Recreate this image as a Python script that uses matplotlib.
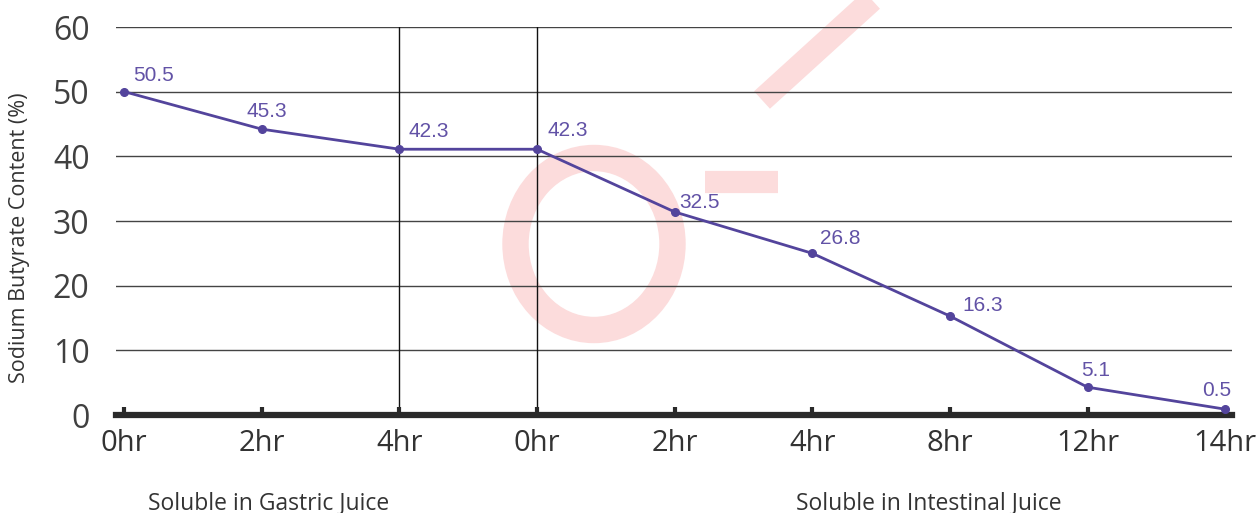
import matplotlib.pyplot as plt
from matplotlib.lines import Line2D
from matplotlib.patches import Ellipse

# categories along the x axis (two phases of the test)
time_labels = ['0hr', '2hr', '4hr', '0hr', '2hr', '4hr', '8hr', '12hr', '14hr']
# where the points sit on the chart
content = [50.0, 44.2, 41.1, 41.1, 31.4, 25.0, 15.3, 4.3, 0.9]
# the numbers printed next to each point
value_labels = ['50.5', '45.3', '42.3', '42.3', '32.5', '26.8', '16.3', '5.1', '0.5']
phase_names = ['Soluble in Gastric Juice', 'Soluble in Intestinal Juice']
phase_centre = [1.05, 5.85]
y_ticks = [0, 10, 20, 30, 40, 50, 60]

# label offsets from each point, in pixels
label_dx = [9, -15, 9, 10, 5, 8, 12, -6, -23]
label_dy = [7, 8, 8, 9, 0, 5, 1, 7, 9]

line_col = '#53449c'
label_col = '#6252a6'
text_col = '#333333'
pink = '#fcdcdc'

fig = plt.figure(figsize=(12.59, 5.13), dpi=100)
ax = fig.add_axes([116 / 1259, 1 - 415 / 513, (1232 - 116) / 1259, (415 - 27) / 513])
ax.patch.set_alpha(0)

# faint watermark behind the chart
fig.add_artist(Ellipse((594 / 1259, 1 - 244 / 513), 157 / 1259, 172 / 513,
                       transform=fig.transFigure, fill=False, ec=pink, lw=19, zorder=0))
fig.add_artist(Line2D([762 / 1259, 872 / 1259], [1 - 100 / 513, 1.0], transform=fig.transFigure,
                      color=pink, lw=17, solid_capstyle='butt', zorder=0))
fig.add_artist(Line2D([705 / 1259, 778 / 1259], [1 - 182 / 513, 1 - 182 / 513],
                      transform=fig.transFigure, color=pink, lw=16, solid_capstyle='butt', zorder=0))

x = list(range(len(time_labels)))
for yt in y_ticks[1:]:
    ax.axhline(yt, color='#444444', lw=1.0, zorder=1)
for xv in [2, 3]:
    ax.plot([xv, xv], [0, 60.3], color='#111111', lw=1.0, zorder=1)

ax.plot(x, content, color=line_col, lw=2.0, marker='o', ms=5.5, zorder=3)
for xi, yi, lab, dx, dy in zip(x, content, value_labels, label_dx, label_dy):
    ax.annotate(lab, (xi, yi), xytext=(dx, dy), textcoords='offset pixels',
                color=label_col, fontsize=15, family='Liberation Sans',
                ha='left', va='bottom')

ax.set_xlim(-0.06, 8.05)
ax.set_ylim(0, 60)
ax.set_xticks(x)
ax.set_xticklabels(time_labels, fontsize=21, color=text_col, family='Open Sans')
ax.set_yticks(y_ticks)
ax.set_yticklabels([str(v) for v in y_ticks], fontsize=23, color='#404040', family='Open Sans')
ax.tick_params(axis='x', direction='in', length=6, width=3, color='#2a2a2a', pad=10)
ax.tick_params(axis='y', length=0, pad=19)
for s in ['top', 'right', 'left']:
    ax.spines[s].set_visible(False)
ax.spines['bottom'].set_linewidth(4.5)
ax.spines['bottom'].set_color('#2a2a2a')

fig.text(20 / 1259, 1 - 238 / 513, 'Sodium Butyrate Content (%)', rotation=90,
         fontsize=15.5, color=text_col, ha='center', va='center', family='Open Sans')
for name, xc in zip(phase_names, phase_centre):
    ax.text(xc, -13.6, name, fontsize=16.5, color=text_col, ha='center', va='center',
            family='Open Sans')

fig.savefig('out.png', dpi=100)
